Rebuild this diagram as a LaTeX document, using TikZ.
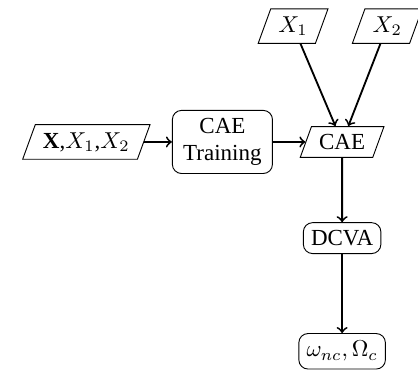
\documentclass[tikz,border=0pt]{standalone}
\usepackage{fontspec}
\setmainfont{Liberation Serif}
\usetikzlibrary{shapes.geometric}

\tikzset{
	data/.style={draw, trapezium, trapezium left angle=70, trapezium right angle=110, trapezium stretches body},
	proc/.style={draw, rounded corners=4pt, align=center},
}

\begin{document}
\begin{tikzpicture}
		\useasboundingbox (-5.23, -3.52) rectangle (1.16, 2.17);

		\node[data]	(in)	at (-3.91, 0)	{$\mathbf{X}$,$X_1$,$X_2$};
		\node[proc, minimum width=1.53cm]	(train)	at (-1.83, 0)	{CAE\\Training};
		\node[data]	(cae)	at (0, 0)	{CAE};

		\node[data]	(xa)	at (-0.75, 1.77)	{$X_1$};
		\node[data]	(xb)	at (0.69, 1.77)	{$X_2$};

		\node[proc]	(dcva)	at (0, -1.47)	{DCVA};
		\node[proc]	(out)	at (0, -3.2)	{$\omega_{nc}, \Omega_c$};

		\draw[->, black, thick]	(in) to (train);
		\draw[->, black, thick]	(train) to (cae);
		\draw[->, black, thick]	(xa) to (cae);
		\draw[->, black, thick]	(xb) to (cae);
		\draw[->, black, thick]	(cae) to (dcva);
		\draw[->, black, thick]	(dcva) to (out);
	\end{tikzpicture}
\end{document}
